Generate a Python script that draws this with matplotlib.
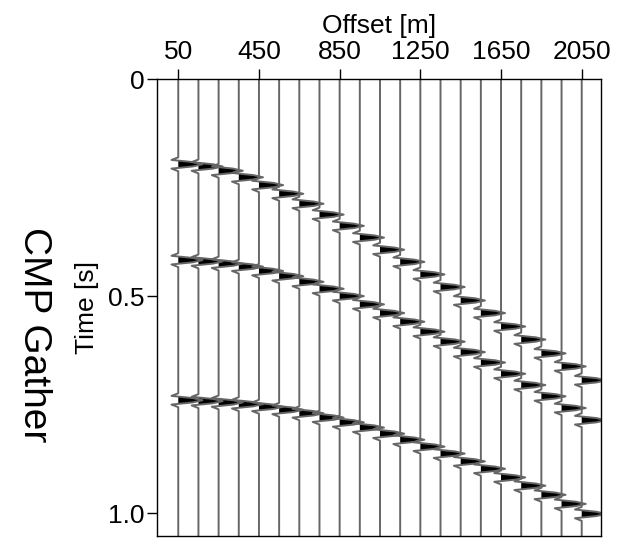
import numpy as np
import matplotlib
matplotlib.use("Agg")
import matplotlib.pyplot as plt

plt.rcParams['font.family'] = ['Liberation Sans', 'DejaVu Sans']

# trace offsets [m]
offsets = [50, 150, 250, 350, 450, 550, 650, 750, 850, 950, 1050,
           1150, 1250, 1350, 1450, 1550, 1650, 1750, 1850, 1950, 2050]

# picked arrival times [s] of the three reflections, one per trace
refl1 = [0.196, 0.201, 0.211, 0.226, 0.244, 0.264, 0.287, 0.312, 0.338, 0.365, 0.393,
         0.421, 0.450, 0.479, 0.510, 0.539, 0.570, 0.600, 0.632, 0.662, 0.694]
refl2 = [0.417, 0.420, 0.425, 0.432, 0.442, 0.454, 0.467, 0.483, 0.500, 0.519, 0.539,
         0.559, 0.582, 0.605, 0.629, 0.653, 0.679, 0.705, 0.731, 0.758, 0.786]
refl3 = [0.740, 0.742, 0.745, 0.749, 0.755, 0.762, 0.770, 0.780, 0.791, 0.803, 0.817,
         0.831, 0.847, 0.863, 0.881, 0.898, 0.918, 0.937, 0.958, 0.979, 1.002]

xtick_vals = [50, 450, 850, 1250, 1650, 2050]
ytick_vals = [0, 0.5, 1.0]
ytick_labels = ["0", "0.5", "1.0"]

# wavelet: sharp zero-phase pulse (relative time [s], normalised amplitude)
wav_t = [-0.016, -0.010, -0.005, 0.0, 0.005, 0.010, 0.016]
wav_a = [0.0, -0.28, 0.6, 1.0, 0.6, -0.28, 0.0]
amp = 120.0      # peak deflection in offset units

t = np.arange(0, 1.06, 0.0005)

fig = plt.figure(figsize=(6.21, 5.38), dpi=100)
ax = fig.add_axes([0.2536, 0.0037, 0.714, 0.849])

for i, x0 in enumerate(offsets):
    tr = np.zeros_like(t)
    for arr in (refl1, refl2, refl3):
        tr += np.interp(t - arr[i], wav_t, wav_a, left=0, right=0)
    xs = x0 + amp * tr
    ax.fill_betweenx(t, x0, xs, where=tr > 0, color='k', lw=0, interpolate=True)
    ax.plot(xs, t, color='0.4', lw=1.4)

ax.set_xlim(-53, 2145)
ax.set_ylim(1.053, 0)

ax.xaxis.tick_top()
ax.xaxis.set_label_position('top')
ax.set_xticks(xtick_vals)
ax.set_yticks(ytick_vals)
ax.set_yticklabels(ytick_labels)
ax.tick_params(direction='out', length=7.5, width=1, labelsize=19, pad=2)
ax.tick_params(axis='x', pad=3.5)

ax.set_xlabel("Offset [m]", fontsize=19, labelpad=5)
ax.set_ylabel("Time [s]", fontsize=19, labelpad=6)

for sp in ax.spines.values():
    sp.set_linewidth(1.0)

fig.text(0.054, 0.378, "CMP Gather", rotation=-90, fontsize=28,
         ha='center', va='center')

plt.savefig("out.png", dpi=100)
plt.close()
